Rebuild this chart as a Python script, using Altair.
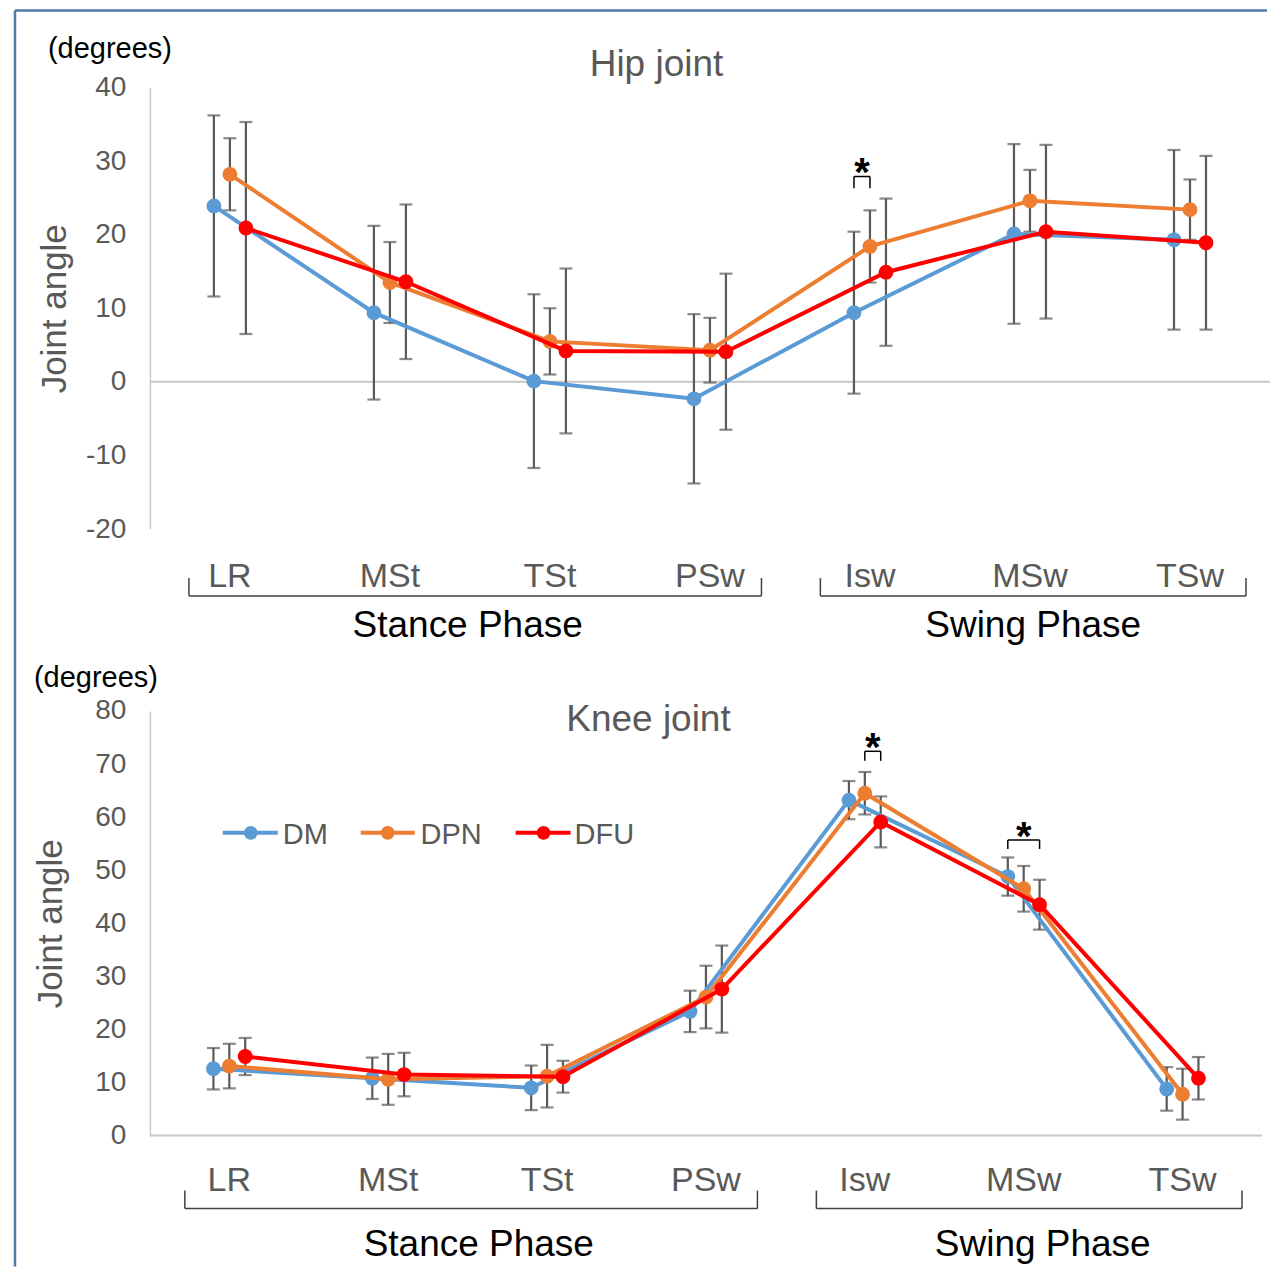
import altair as alt
import pandas as pd

# ---------------- data ----------------
CATEGORIES = ["LR", "MSt", "TSt", "PSw", "Isw", "MSw", "TSw"]
SERIES = ["DM", "DPN", "DFU"]
COLORS = ["#5B9BD5", "#ED7D31", "#FF0000"]

HIP_DM_MEAN = [23.9, 9.4, 0.1, -2.3, 9.4, 20.1, 19.3]
HIP_DM_SD = [12.3, 11.8, 11.8, 11.5, 11.0, 12.2, 12.2]
HIP_DPN_MEAN = [28.2, 13.5, 5.5, 4.3, 18.4, 24.6, 23.4]
HIP_DPN_SD = [4.9, 5.5, 4.5, 4.4, 4.9, 4.2, 4.1]
HIP_DFU_MEAN = [20.9, 13.6, 4.2, 4.1, 14.9, 20.4, 18.9]
HIP_DFU_SD = [14.4, 10.5, 11.2, 10.6, 10.0, 11.8, 11.8]

KNEE_DM_MEAN = [12.6, 10.8, 9.0, 23.4, 63.2, 48.8, 8.8]
KNEE_DM_SD = [3.9, 3.9, 4.2, 3.9, 3.6, 3.6, 4.1]
KNEE_DPN_MEAN = [13.1, 10.6, 11.2, 26.1, 64.5, 46.5, 7.8]
KNEE_DPN_SD = [4.2, 4.8, 5.9, 5.9, 4.0, 4.3, 4.8]
KNEE_DFU_MEAN = [14.9, 11.5, 11.1, 27.6, 59.1, 43.5, 10.8]
KNEE_DFU_SD = [3.5, 4.1, 3.0, 8.2, 4.8, 4.7, 4.0]

HIP_TICKS = [-20, -10, 0, 10, 20, 30, 40]
KNEE_TICKS = [0, 10, 20, 30, 40, 50, 60, 70, 80]

PHASES = ["Stance Phase", "Swing Phase"]

# significance brackets: (category, series from, series to, top value, leg bottom value)
HIP_SIG = [("Isw", "DM", "DPN", 27.9, 26.3)]
KNEE_SIG = [("Isw", "DPN", "DFU", 72.4, 70.6), ("MSw", "DM", "DFU", 55.7, 54.0)]

# ---------------- layout / style ----------------
FONT = "Liberation Sans"
GRAY_TXT = "#595959"
BAR_GRAY = "#595959"
AX_GRAY = "#C8C8C8"
FRAME = "#4F79A8"
OFFSET = {"DM": -0.1, "DPN": 0.0, "DFU": 0.1}


def build_df(means, sds):
    rows = []
    for s in SERIES:
        for i, c in enumerate(CATEGORIES):
            m = means[s][i]
            sd = sds[s][i]
            rows.append({"series": s, "cat": c, "x": i + 0.5 + OFFSET[s],
                         "mean": m, "lo": m - sd, "hi": m + sd})
    return pd.DataFrame(rows)


def panel(df, ymin, ymax, ticks, width, height, cfg, sig, legend=False, frame=False):
    xs = alt.Scale(domain=[0, 7], nice=False, zero=False)
    ys = alt.Scale(domain=[ymin, ymax], nice=False, zero=False)
    yaxis = alt.Axis(values=ticks, title="Joint angle", titlePadding=cfg["title_pad"],
                     grid=False, ticks=False, tickSize=0, labelPadding=24,
                     labelExpr="'' + datum.value",
                     labelFontSize=28, labelColor=GRAY_TXT, labelFont=FONT,
                     domainColor=AX_GRAY, domainWidth=1.5,
                     titleFontSize=35, titleColor=GRAY_TXT, titleFont=FONT,
                     titleFontWeight="normal")

    def X(f):
        return alt.X(f, scale=xs, axis=None)

    def Y(f):
        return alt.Y(f, scale=ys, axis=yaxis)

    layers = []
    # zero line
    zero = alt.Chart(pd.DataFrame({"z": [0]})).mark_rule(color=AX_GRAY, strokeWidth=2).encode(
        y=Y("z:Q"))
    layers.append(zero)

    # error bars
    base = alt.Chart(df)
    layers.append(base.mark_rule(color=BAR_GRAY, strokeWidth=2.2).encode(
        x=X("x:Q"), y=Y("lo:Q"), y2="hi:Q"))
    layers.append(base.mark_tick(orient="horizontal", size=13, thickness=2.2, color=BAR_GRAY).encode(
        x=X("x:Q"), y=Y("lo:Q")))
    layers.append(base.mark_tick(orient="horizontal", size=13, thickness=2.2, color=BAR_GRAY).encode(
        x=X("x:Q"), y=Y("hi:Q")))

    # series lines + markers
    for s, col in zip(SERIES, COLORS):
        sub = alt.Chart(df[df.series == s])
        layers.append(sub.mark_line(color=col, strokeWidth=4).encode(x=X("x:Q"), y=Y("mean:Q")))
        layers.append(sub.mark_circle(color=col, size=220, opacity=1).encode(x=X("x:Q"), y=Y("mean:Q")))

    # significance brackets
    srows = []
    for c, s0, s1, top, bot in sig:
        i = CATEGORIES.index(c)
        x0 = i + 0.5 + OFFSET[s0]
        x1 = i + 0.5 + OFFSET[s1]
        srows.append({"x0": x0, "x1": x1, "xm": (x0 + x1) / 2, "top": top, "bot": bot})
    sdf = alt.Chart(pd.DataFrame(srows))
    layers.append(sdf.mark_rule(color="black", strokeWidth=1.5).encode(x=X("x0:Q"), x2="x1:Q", y=Y("top:Q")))
    layers.append(sdf.mark_rule(color="black", strokeWidth=1.5).encode(x=X("x0:Q"), y=Y("top:Q"), y2="bot:Q"))
    layers.append(sdf.mark_rule(color="black", strokeWidth=1.5).encode(x=X("x1:Q"), y=Y("top:Q"), y2="bot:Q"))
    layers.append(sdf.mark_text(text="*", fontSize=40, fontWeight="bold", color="black",
                                baseline="alphabetic", dy=10, font=FONT).encode(x=X("xm:Q"), y=Y("top:Q")))

    # category labels
    cdf = alt.Chart(pd.DataFrame({"name": CATEGORIES, "cx": [i + 0.5 for i in range(7)]}))
    layers.append(cdf.mark_text(fontSize=34, color=GRAY_TXT, baseline="alphabetic", font=FONT).encode(
        x=X("cx:Q"), y=alt.value(cfg["cat_y"]), text="name:N"))

    # phase brackets
    pdf = alt.Chart(pd.DataFrame({"name": PHASES, "x0": cfg["ph_x0"], "x1": cfg["ph_x1"], "lx": cfg["ph_lx"]}))
    layers.append(pdf.mark_rule(color="#404040", strokeWidth=1.5).encode(
        x=X("x0:Q"), x2="x1:Q", y=alt.value(cfg["br_y1"])))
    layers.append(pdf.mark_rule(color="#404040", strokeWidth=1.5).encode(
        x=X("x0:Q"), y=alt.value(cfg["br_y0"]), y2=alt.value(cfg["br_y1"])))
    layers.append(pdf.mark_rule(color="#404040", strokeWidth=1.5).encode(
        x=X("x1:Q"), y=alt.value(cfg["br_y0"]), y2=alt.value(cfg["br_y1"])))
    layers.append(pdf.mark_text(fontSize=37, color="black", baseline="alphabetic", font=FONT).encode(
        x=X("lx:Q"), y=alt.value(cfg["ph_y"]), text="name:N"))

    one = alt.Chart(pd.DataFrame({"k": [0]}))
    # "(degrees)"
    layers.append(one.mark_text(text="(degrees)", fontSize=29, color="black", baseline="alphabetic",
                                font=FONT).encode(x=alt.value(cfg["deg_x"]), y=alt.value(cfg["deg_y"])))
    # panel title
    layers.append(one.mark_text(text=cfg["title"], fontSize=37, color=GRAY_TXT, baseline="alphabetic",
                                font=FONT).encode(x=alt.value(cfg["title_x"]), y=alt.value(cfg["title_y"])))

    if legend:
        ldf = pd.DataFrame({"series": SERIES, "l0": cfg["leg_l0"], "l1": cfg["leg_l1"],
                            "m": cfg["leg_m"], "t": cfg["leg_t"]})
        cs = alt.Scale(domain=SERIES, range=COLORS)
        lc = alt.Chart(ldf)
        layers.append(lc.mark_rule(strokeWidth=4).encode(
            x=X("l0:Q"), x2="l1:Q", y=alt.value(cfg["leg_y"]),
            color=alt.Color("series:N", scale=cs, legend=None)))
        layers.append(lc.mark_circle(size=190, opacity=1).encode(
            x=X("m:Q"), y=alt.value(cfg["leg_y"]),
            color=alt.Color("series:N", scale=cs, legend=None)))
        layers.append(lc.mark_text(fontSize=29, color=GRAY_TXT, align="left", baseline="alphabetic",
                                   font=FONT).encode(
            x=X("t:Q"), y=alt.value(cfg["leg_y"] + 11), text="series:N"))

    if frame:
        layers.append(one.mark_rule(color=FRAME, strokeWidth=2.5).encode(
            x=alt.value(-135), y=alt.value(-77), y2=alt.value(1180)))
        layers.append(one.mark_rule(color=FRAME, strokeWidth=2.5).encode(
            x=alt.value(-135), x2=alt.value(1118), y=alt.value(-77)))

    return alt.layer(*layers).properties(width=width, height=height)


hip_df = build_df({"DM": HIP_DM_MEAN, "DPN": HIP_DPN_MEAN, "DFU": HIP_DFU_MEAN},
                  {"DM": HIP_DM_SD, "DPN": HIP_DPN_SD, "DFU": HIP_DFU_SD})
knee_df = build_df({"DM": KNEE_DM_MEAN, "DPN": KNEE_DPN_MEAN, "DFU": KNEE_DFU_MEAN},
                   {"DM": KNEE_DM_SD, "DPN": KNEE_DPN_SD, "DFU": KNEE_DFU_SD})

hip_cfg = dict(title="Hip joint", title_x=507, title_y=-11, title_pad=13,
               deg_x=-40, deg_y=-29, cat_y=500, br_y0=491, br_y1=509, ph_y=550,
               ph_x0=[0.244, 4.19], ph_x1=[3.822, 6.85], ph_lx=[1.986, 5.52])
knee_cfg = dict(title="Knee joint", title_x=499, title_y=20, title_pad=26,
                deg_x=-54, deg_y=-24, cat_y=480, br_y0=480, br_y1=498, ph_y=545,
                ph_x0=[0.22, 4.195], ph_x1=[3.824, 6.874], ph_lx=[2.07, 5.62],
                leg_y=122, leg_l0=[0.459, 1.327, 2.302], leg_l1=[0.805, 1.667, 2.648],
                leg_m=[0.635, 1.497, 2.478], leg_t=[0.836, 1.704, 2.673])

hip = panel(hip_df, -20, 40, HIP_TICKS, 1121, 442, hip_cfg, HIP_SIG, frame=True)
knee = panel(knee_df, 0, 80, KNEE_TICKS, 1113, 425, knee_cfg, KNEE_SIG, legend=True)

chart = alt.vconcat(hip, knee, spacing=182, bounds="flush").properties(
    padding={"left": 5, "top": 0, "right": 0, "bottom": 0},
    background="white",
).configure_view(stroke=None)

chart.save("out.html", embed_options={"renderer": "svg", "actions": False})
